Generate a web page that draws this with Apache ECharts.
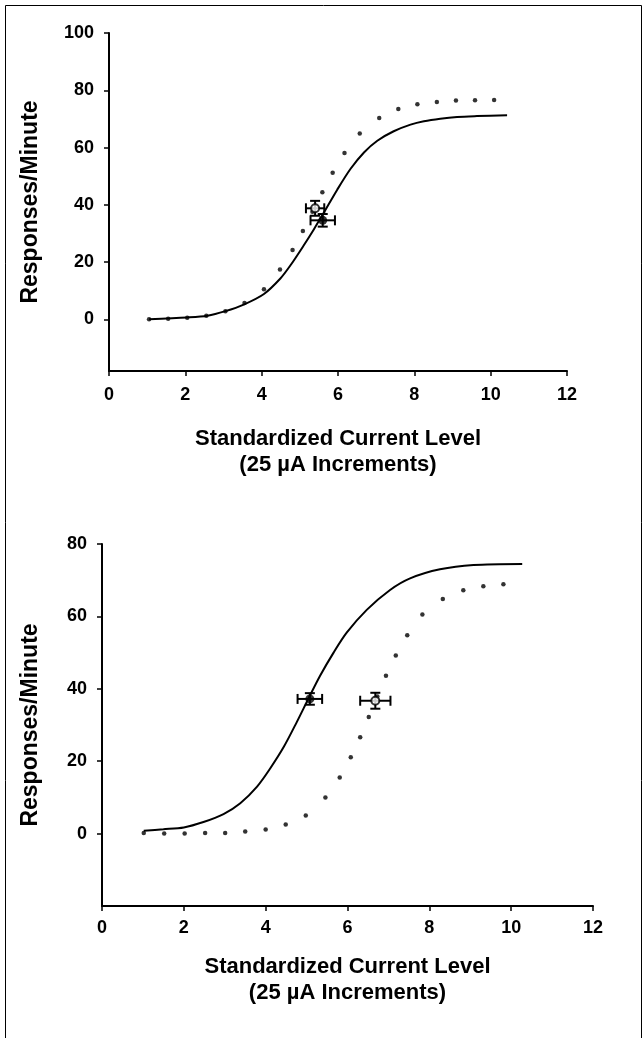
<!DOCTYPE html>
<html>
<head>
<meta charset="utf-8">
<script src="https://cdn.jsdelivr.net/npm/echarts@6/dist/echarts.min.js"></script>
<style>
  html, body { margin: 0; padding: 0; background: #fff; }
  #chart { width: 643px; height: 1038px; }
</style>
</head>
<body>
<div id="chart"></div>
<script>
// 上图 (top panel) -- [x, y]
var topFitCurve = [[1.05,0.1],[2.05,0.7],[2.58,1.3],[3.05,2.9],[3.53,5.2],[4.06,8.9],[4.49,14.3],[4.76,19.0],[5.1,25.8],[5.37,31.5],[5.63,37.3],[5.98,45.3],[6.33,52.6],[6.68,58.3],[7.03,62.4],[7.46,65.7],[7.9,68.0],[8.25,69.2],[8.68,70.1],[9.12,70.7],[9.64,71.0],[10.43,71.3]];
var topDottedCurve = [[1.05,0.1],[1.55,0.2],[2.05,0.6],[2.55,1.3],[3.05,2.9],[3.55,5.7],[4.06,10.5],[4.48,17.4],[4.81,24.2],[5.08,30.9],[5.33,37.6],[5.59,44.4],[5.86,51.2],[6.17,58.1],[6.57,64.9],[7.08,70.3],[7.58,73.5],[8.08,75.1],[8.59,75.9],[9.09,76.4],[9.59,76.5],[10.09,76.6]];
// [x, y, xErr, yErr]
var topOpenPoint = [[5.4, 38.8, 0.24, 2.6]];
var topFilledPoint = [[5.6, 34.6, 0.32, 2.2]];

// 下图 (bottom panel)
var bottomFitCurve = [[1.02,0.8],[1.5,1.2],[2.0,1.7],[2.48,3.2],[2.97,5.4],[3.38,8.4],[3.79,13.0],[4.11,18.0],[4.44,23.9],[4.76,30.8],[5.05,37.4],[5.33,43.6],[5.66,50.0],[5.98,55.5],[6.47,61.8],[7.04,67.3],[7.53,70.5],[8.26,73.0],[9.08,74.2],[10.27,74.5]];
var bottomDottedCurve = [[1.02,0.2],[1.52,0],[2.02,0],[2.52,0.2],[3.01,0.2],[3.5,0.55],[4.0,1.1],[4.49,2.5],[4.98,5.0],[5.46,10.0],[5.81,15.5],[6.08,21.1],[6.31,26.6],[6.52,32.2],[6.73,37.9],[6.94,43.6],[7.18,49.2],[7.46,54.8],[7.83,60.5],[8.33,64.8],[8.83,67.2],[9.32,68.3],[9.81,68.9]];
var bottomFilledPoint = [[5.08, 37.2, 0.3, 1.6]];
var bottomOpenPoint = [[6.68, 36.7, 0.37, 2.2]];

var topYTicks = [0, 20, 40, 60, 80, 100];
var bottomYTicks = [0, 20, 40, 60, 80];
var xTitle = "Standardized Current Level\n(25 µA Increments)";
var yTitle = "Responses/Minute";

var FONT = "'Liberation Sans', Arial, sans-serif";
var myChart = echarts.init(document.getElementById("chart"));

function xAxisCfg(gridIndex, labelMargin, gap) {
  return {
    type: "value",
    gridIndex: gridIndex,
    min: 0,
    max: 12,
    interval: 2,
    name: xTitle,
    nameLocation: "middle",
    nameGap: gap,
    nameTextStyle: { fontFamily: FONT, fontWeight: "bold", fontSize: 22, color: "#000", lineHeight: 26 },
    axisLine: { onZero: false, lineStyle: { color: "#000", width: 2 } },
    axisTick: { length: 5, lineStyle: { color: "#000", width: 1.5 } },
    axisLabel: { margin: labelMargin, fontFamily: FONT, fontWeight: "bold", fontSize: 18, color: "#000" },
    splitLine: { show: false }
  };
}

function yAxisCfg(gridIndex, min, max, ticks, gap) {
  return {
    type: "value",
    gridIndex: gridIndex,
    min: min,
    max: max,
    name: yTitle,
    nameLocation: "middle",
    nameRotate: 90,
    nameGap: gap,
    nameTextStyle: { fontFamily: FONT, fontWeight: "bold", fontSize: 23, color: "#000" },
    axisLine: { onZero: false, lineStyle: { color: "#000", width: 2 } },
    axisTick: { length: 5, customValues: ticks, lineStyle: { color: "#000", width: 1.5 } },
    axisLabel: { margin: 15, customValues: ticks, fontFamily: FONT, fontWeight: "bold", fontSize: 18, color: "#000" },
    splitLine: { show: false }
  };
}

// 误差线 error bars (horizontal + vertical with caps)
function errorBarRender(params, api) {
  var x = api.value(0), y = api.value(1), ex = api.value(2), ey = api.value(3);
  var l = api.coord([x - ex, y]), r = api.coord([x + ex, y]);
  var t = api.coord([x, y + ey]), b = api.coord([x, y - ey]);
  var c = 5;
  var style = { stroke: "#000", lineWidth: 2, fill: null };
  return {
    type: "group",
    children: [
      { type: "line", shape: { x1: l[0], y1: l[1], x2: r[0], y2: r[1] }, style: style },
      { type: "line", shape: { x1: l[0], y1: l[1] - c, x2: l[0], y2: l[1] + c }, style: style },
      { type: "line", shape: { x1: r[0], y1: r[1] - c, x2: r[0], y2: r[1] + c }, style: style },
      { type: "line", shape: { x1: t[0], y1: t[1], x2: b[0], y2: b[1] }, style: style },
      { type: "line", shape: { x1: t[0] - c, y1: t[1], x2: t[0] + c, y2: t[1] }, style: style },
      { type: "line", shape: { x1: b[0] - c, y1: b[1], x2: b[0] + c, y2: b[1] }, style: style }
    ]
  };
}

function panelSeries(idx, fit, dots, filled, open) {
  return [
    {
      type: "line", xAxisIndex: idx, yAxisIndex: idx, data: fit, smooth: 0.3,
      showSymbol: false, lineStyle: { color: "#000", width: 2 }, z: 2
    },
    {
      type: "scatter", xAxisIndex: idx, yAxisIndex: idx, data: dots,
      symbol: "circle", symbolSize: 4.5, itemStyle: { color: "#000" }, z: 3
    },
    {
      type: "custom", xAxisIndex: idx, yAxisIndex: idx, data: filled.concat(open),
      renderItem: errorBarRender, z: 4
    },
    {
      type: "scatter", xAxisIndex: idx, yAxisIndex: idx, data: filled,
      symbol: "circle", symbolSize: 9, itemStyle: { color: "#000" }, z: 5
    },
    {
      type: "scatter", xAxisIndex: idx, yAxisIndex: idx, data: open,
      symbol: "circle", symbolSize: 8, itemStyle: { color: "#fff", borderColor: "#000", borderWidth: 2 }, z: 6
    }
  ];
}

var option = {
  backgroundColor: "#fff",
  animation: false,
  graphic: [
    { type: "rect", left: 3, top: 3, shape: { width: 636, height: 1060 }, style: { fill: null, stroke: "#000", lineWidth: 1 } }
  ],
  grid: [
    { left: 109, right: 76, top: 33, height: 338 },
    { left: 102, right: 50, top: 544, height: 362 }
  ],
  xAxis: [xAxisCfg(0, 15, 55), xAxisCfg(1, 13, 48)],
  yAxis: [yAxisCfg(0, -18, 100, topYTicks, 67), yAxisCfg(1, -20, 80, bottomYTicks, 60)],
  series: panelSeries(0, topFitCurve, topDottedCurve, topFilledPoint, topOpenPoint)
    .concat(panelSeries(1, bottomFitCurve, bottomDottedCurve, bottomFilledPoint, bottomOpenPoint))
};

myChart.setOption(option);
</script>
</body>
</html>
